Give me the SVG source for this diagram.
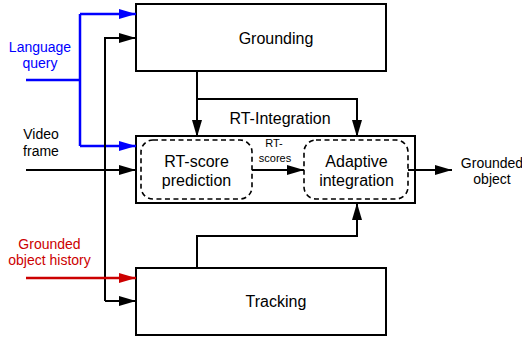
<svg xmlns="http://www.w3.org/2000/svg" width="522" height="339" viewBox="0 0 522 339">
<style>
.box{fill:#fff;stroke:#000;stroke-width:2}
.inner{fill:none;stroke:#000;stroke-width:1.6;stroke-dasharray:5,3.5}
.t{font-family:"Liberation Sans",Arial,sans-serif;fill:#000;text-anchor:middle}
.big{font-size:16px}
.mid{font-size:14px}
.sm{font-size:11px}
.blue{fill:#0000ff}
.red{fill:#cc0000}
.c{fill:none;stroke:#000;stroke-width:2}
.cb{fill:none;stroke:#0000ff;stroke-width:2.5}
.cr{fill:none;stroke:#cc0000;stroke-width:2.5}
</style>
<defs>
<marker id="ak" markerUnits="userSpaceOnUse" markerWidth="17" markerHeight="10" refX="17" refY="5" orient="auto"><path d="M0,0 L17,5 L0,10 z" fill="#000"/></marker>
<marker id="ab" markerUnits="userSpaceOnUse" markerWidth="17" markerHeight="10" refX="17" refY="5" orient="auto"><path d="M0,0 L17,5 L0,10 z" fill="#0000ff"/></marker>
<marker id="ar" markerUnits="userSpaceOnUse" markerWidth="17" markerHeight="10" refX="17" refY="5" orient="auto"><path d="M0,0 L17,5 L0,10 z" fill="#cc0000"/></marker>
</defs>
<rect width="522" height="339" fill="#fff"/>
<g id="grounding"><rect class="box" x="136" y="4" width="250" height="67"/><text class="t big" x="276" y="44">Grounding</text></g>
<g id="rt-integration"><rect class="box" x="136" y="136" width="279" height="67"/><text class="t big" x="280" y="124">RT-Integration</text></g>
<g id="rt-score"><rect class="inner" x="141" y="140" width="111" height="59" rx="12"/><text class="t big" x="196.5" y="167">RT-score</text><text class="t big" x="196.5" y="186">prediction</text></g>
<g id="adaptive"><rect class="inner" x="304" y="140" width="104" height="59" rx="12"/><text class="t big" x="356.5" y="167">Adaptive</text><text class="t big" x="356.5" y="186">integration</text></g>
<g id="tracking"><rect class="box" x="136" y="268" width="250" height="67"/><text class="t big" x="276" y="307">Tracking</text></g>
<g id="language-query"><text class="t mid blue" x="40" y="52">Language</text><text class="t mid blue" x="40" y="68">query</text></g>
<g id="video-frame"><text class="t mid" x="41" y="139">Video</text><text class="t mid" x="41" y="156">frame</text></g>
<g id="history"><text class="t mid red" x="49.5" y="249">Grounded</text><text class="t mid red" x="49.5" y="265">object history</text></g>
<g id="output"><text class="t mid" x="492" y="168">Grounded</text><text class="t mid" x="492" y="184">object</text></g>
<g id="connectors">
<path class="cb" d="M26,80 H80 M80,14 V146"/>
<path class="cb" d="M80,14 H136" marker-end="url(#ab)"/>
<path class="cb" d="M80,146 H136" marker-end="url(#ab)"/>
<path class="c" d="M105,301 V38 H136" marker-end="url(#ak)"/>
<path class="c" d="M105,301 H136" marker-end="url(#ak)"/>
<path class="c" d="M26,170 H136" marker-end="url(#ak)"/>
<path class="cr" d="M26,278 H136" marker-end="url(#ar)"/>
<path class="c" d="M197,71 V137" marker-end="url(#ak)"/>
<path class="c" d="M197,99 H357 V137" marker-end="url(#ak)"/>
<path class="c" d="M197,268 V236 H357 V203" marker-end="url(#ak)"/>
<path class="c" d="M252,170 H304" marker-end="url(#ak)"/>
<text class="t sm" x="274" y="147">RT-</text><text class="t sm" x="275" y="162">scores</text>
<path class="c" d="M408,170 H452" marker-end="url(#ak)"/>
</g>
</svg>
